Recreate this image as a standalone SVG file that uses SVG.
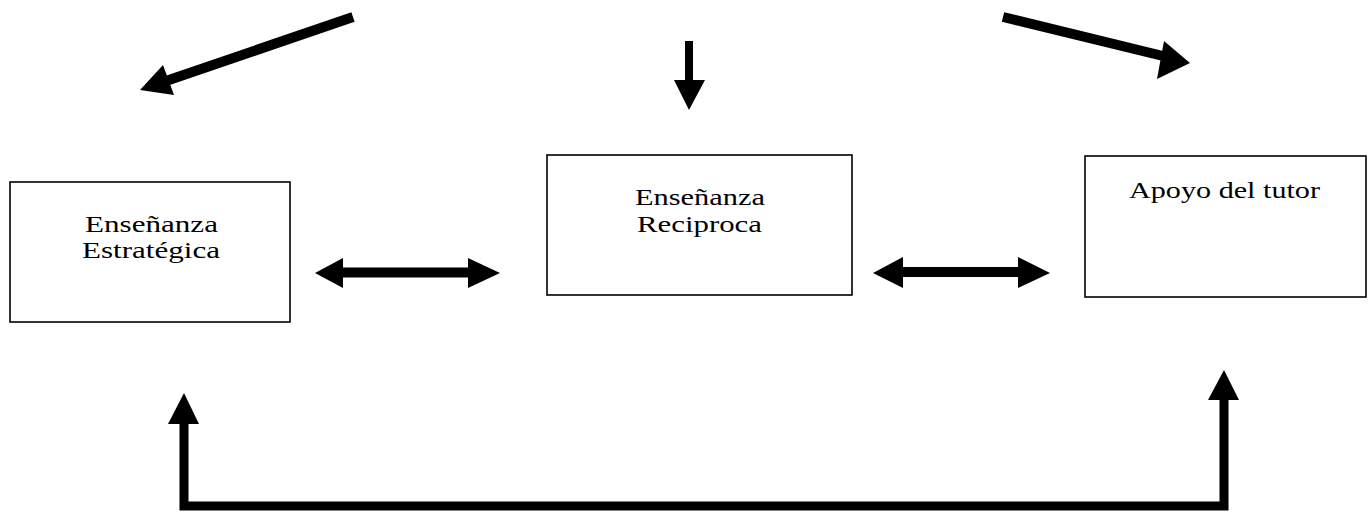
<svg xmlns="http://www.w3.org/2000/svg" width="1370" height="511" viewBox="0 0 1370 511">
<style>
.box{fill:#fff;stroke:#000;stroke-width:1.6}
.lbl{font-family:"Liberation Serif","Times New Roman",serif;font-size:23px;fill:#000}
.shaft{stroke:#000;fill:none;stroke-linecap:butt;stroke-linejoin:miter}
.head{fill:#000}
</style>
<rect width="1370" height="511" fill="#fff"/>
<g id="node-estrategica">
<rect class="box" x="10" y="182" width="280" height="140"/>
<text class="lbl" x="85" y="232" textLength="133" lengthAdjust="spacingAndGlyphs">Enseñanza</text>
<text class="lbl" x="82" y="258" textLength="138" lengthAdjust="spacingAndGlyphs">Estratégica</text>
</g>
<g id="node-reciproca">
<rect class="box" x="547" y="155" width="305" height="140"/>
<text class="lbl" x="635" y="205" textLength="130" lengthAdjust="spacingAndGlyphs">Enseñanza</text>
<text class="lbl" x="637" y="232" textLength="125" lengthAdjust="spacingAndGlyphs">Reciproca</text>
</g>
<g id="node-tutor">
<rect class="box" x="1085" y="156" width="281" height="141"/>
<text class="lbl" x="1129" y="198" textLength="191" lengthAdjust="spacingAndGlyphs">Apoyo del tutor</text>
</g>
<g id="connectors">
<line class="shaft" x1="353" y1="17" x2="166" y2="81" stroke-width="10"/>
<polygon class="head" points="140,90 163,65 174,95"/>
<line class="shaft" x1="689" y1="41" x2="689" y2="82" stroke-width="8"/>
<polygon class="head" points="674,80 705,80 689,110"/>
<line class="shaft" x1="1003" y1="17" x2="1163" y2="56" stroke-width="10"/>
<polygon class="head" points="1190,63 1164,41 1157,79"/>
<line class="shaft" x1="340" y1="272.5" x2="471" y2="272.5" stroke-width="10"/>
<polygon class="head" points="315,273 343,258 343,288"/>
<polygon class="head" points="500,273 468,258 468,288"/>
<line class="shaft" x1="900" y1="272" x2="1021" y2="272" stroke-width="10"/>
<polygon class="head" points="873,273 903,257 903,288"/>
<polygon class="head" points="1050,273 1018,257 1018,288"/>
<path class="shaft" d="M184,422 V506 H1224 V398" stroke-width="9"/>
<polygon class="head" points="184,393 168,424 199,424"/>
<polygon class="head" points="1224,370 1208,400 1239,400"/>
</g>
</svg>
